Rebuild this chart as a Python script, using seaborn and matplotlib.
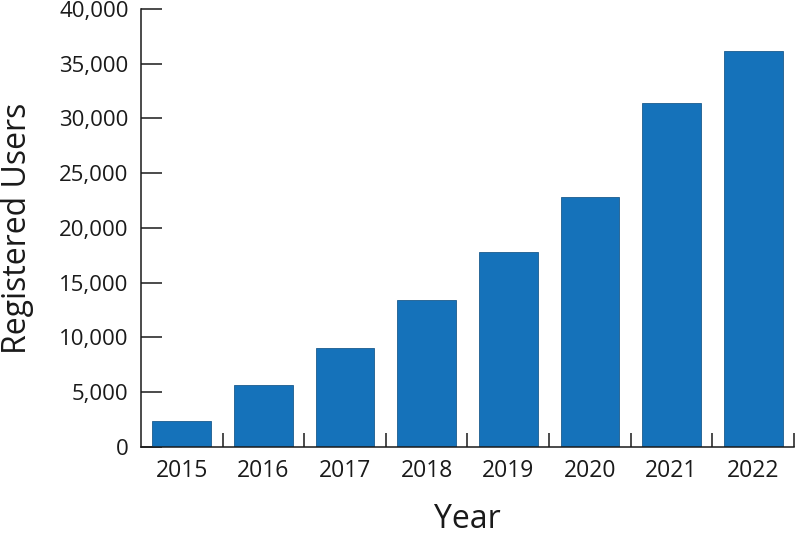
import matplotlib.pyplot as plt
from matplotlib.ticker import FuncFormatter, FixedLocator
import seaborn as sns
import numpy as np

years = ["2015", "2016", "2017", "2018", "2019", "2020", "2021", "2022"]
users = [2400, 5700, 9000, 13400, 17800, 22800, 31400, 36200]

sns.set_style("ticks")
plt.rcParams['font.family'] = ['Open Sans', 'DejaVu Sans']

fig = plt.figure(figsize=(7.95, 5.35), dpi=100)
ax = fig.add_axes([0.1774, 0.1645, 0.8213, 0.8187])

sns.barplot(x=years, y=users, color="#1572ba", saturation=1, width=0.72,
            edgecolor="#1b5b8e", linewidth=0.6, ax=ax)

ax.set_xlim(-0.5, len(years) - 0.5)
ax.set_ylim(0, 40000)
ax.set_yticks(np.arange(0, 40001, 5000))
ax.yaxis.set_major_formatter(FuncFormatter(lambda v, p: "{:,.0f}".format(v)))

# ticks sit between the categories, pointing up
ax.xaxis.set_minor_locator(FixedLocator(np.arange(0.5, len(years), 1.0)))
ax.tick_params(axis="x", which="major", length=0, labelsize=16.5, pad=9, colors="#1a1a1a")
ax.tick_params(axis="x", which="minor", direction="in", length=10, width=1.1, color="#1a1a1a")
ax.tick_params(axis="y", direction="in", length=15, width=1.1, labelsize=16, pad=9,
               colors="#1a1a1a")

for s in ["top", "right"]:
    ax.spines[s].set_visible(False)
for s in ["left", "bottom"]:
    ax.spines[s].set_linewidth(1.1)
    ax.spines[s].set_color("#1a1a1a")

ax.set_xlabel("Year", fontsize=23, labelpad=14, color="#1a1a1a")
ax.set_ylabel("Registered Users", fontsize=23, labelpad=18, color="#1a1a1a")

fig.savefig("out.png", dpi=100)
